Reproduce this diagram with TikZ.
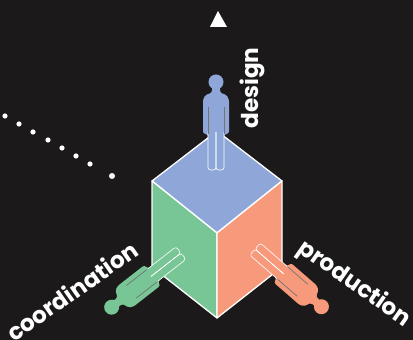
\documentclass[tikz,border=0pt]{standalone}
\usepackage{fontspec}
\setmainfont{Poppins}
\definecolor{bgdark}{HTML}{1B191A}
\definecolor{facetop}{HTML}{8FA6D8}
\definecolor{faceleft}{HTML}{78C596}
\definecolor{faceright}{HTML}{F79A7C}
\tikzset{
	face/.style={draw=white, line width=0.75pt, line join=round},
	rolelabel/.style={text=white, font=\bfseries\fontsize{13.2}{13.2}\selectfont, inner sep=0pt},
	pics/personfig/.style={code={
		\fill[#1] (0,88) circle (7.5);
		\fill[#1, rounded corners=1.5] (-13,36) -- (-13,71) -- (-10,75.5) -- (-4,77) -- (-4,84) -- (4,84) -- (4,77) -- (10,75.5) -- (13,71) -- (13,36) -- (8,36) -- (8,0) -- (-8,0) -- (-8,36) -- cycle;
		\draw[white, line width=0.35pt, rounded corners=1.5] (0,38) -- (0,0) -- (-8,0) -- (-8,38);
		\draw[white, line width=0.35pt, rounded corners=1.5] (0,38) -- (0,0) -- (8,0) -- (8,38);
		\draw[black!55, line width=0.4pt] (-8,36) -- (-8,63);
		\draw[black!55, line width=0.4pt] (8,36) -- (8,63);
	}}
}
\begin{document}
\begin{tikzpicture}[x=0.02cm, y=0.02cm]
	\fill[bgdark] (0,0) rectangle (413,340);
	\useasboundingbox (0,0) rectangle (413,340);

	% faces
	\draw[face, fill=facetop] (152,159) -- (217,209) -- (282,159) -- (217,107) -- cycle;
	\draw[face, fill=faceleft] (152,159) -- (217,107) -- (217,22) -- (152,73) -- cycle;
	\draw[face, fill=faceright] (282,159) -- (217,107) -- (217,22) -- (282,73) -- cycle;

	% people
	\pic at (216,170) {personfig=facetop};
	\pic[rotate=128] at (181,87) {personfig=faceleft};
	\pic[rotate=229] at (255,91) {personfig=faceright};

	% dots
	\foreach \x/\y in {5/224, 19/216, 33/208, 48/200, 62/192, 76/184, 90/176}
		\fill[white] (\x,\y) circle (2.6);
	\fill[white] (112,164) circle (3);

	% arrow
	\fill[white] (218,329) -- (227,313) -- (210,313) -- cycle;

	\node[rolelabel, rotate=90] (design) at (252,252) {design};
	\node[rolelabel, rotate=35] (coordination) at (72,49) {coordination};
	\node[rolelabel, rotate=-35] (production) at (354,56) {production};
\end{tikzpicture}
\end{document}
